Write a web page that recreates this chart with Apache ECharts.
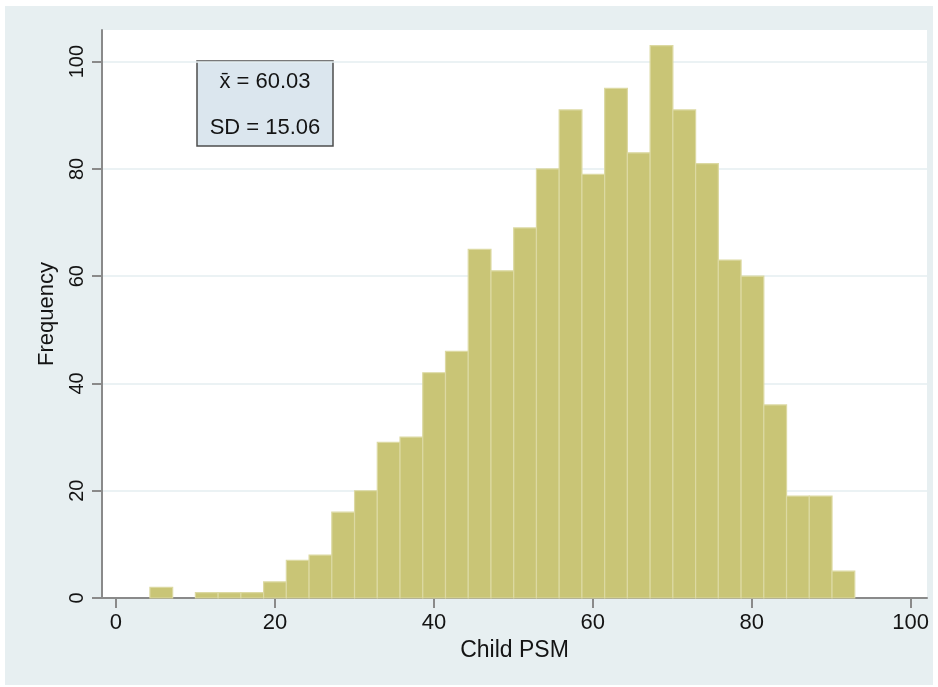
<!doctype html>
<html lang="en-US">

<head>
    <meta charset="utf-8" />
    <meta name="viewport" content="width=device-width, initial-scale=1" />
    <title>Child PSM histogram</title>

    <script type="text/javascript" src="https://cdn.jsdelivr.net/npm/echarts@6/dist/echarts.min.js"></script>

    <style>
        html,
        body {
            margin: 0;
            padding: 0;
            background: #ffffff;
        }

        #hist {
            width: 938px;
            height: 687px;
        }
    </style>
</head>

<body>
    <div id="hist"></div>
</body>

<script type="text/javascript">
    // histogram bins
    let binStart = 4.27;
    let binWidth = 2.861;
    let counts = [2, 0, 1, 1, 1, 3, 7, 8, 16, 20, 29, 30, 42, 46, 65, 61, 69, 80, 91, 79, 95, 83, 103, 91, 81, 63, 60, 36, 19, 19, 5];

    let xTicks = [0, 20, 40, 60, 80, 100];
    let yTicks = [0, 20, 40, 60, 80, 100];
    let statLines = ["x\u0304 = 60.03", "SD = 15.06"];

    let font = "'Liberation Sans', Arial, Helvetica, sans-serif";
    let bins = [];

    for (let i = 0; i < counts.length; i++) {
        bins.push([binStart + i * binWidth, binStart + (i + 1) * binWidth, counts[i]]);
    }

    let render_bar = function (params, api) {
        if (api.value(2) <= 0) {
            return null;
        }

        var lo = api.coord([api.value(0), 0]);
        var hi = api.coord([api.value(1), api.value(2)]);

        return {
            type: 'rect',
            shape: {
                x: lo[0],
                y: hi[1],
                width: hi[0] - lo[0],
                height: lo[1] - hi[1]
            },
            style: {
                fill: '#c9c576',
                stroke: '#dcd9a2',
                lineWidth: 1.2
            }
        };
    };

    var chartDom = document.getElementById("hist");
    var myChart = window.echarts.init(chartDom, null, { renderer: 'canvas' });
    var option = {
        backgroundColor: '#ffffff',
        animation: false,
        textStyle: {
            fontFamily: font
        },
        grid: {
            left: 102,
            right: 11,
            top: 30,
            bottom: 89,
            show: true,
            backgroundColor: '#ffffff',
            borderWidth: 0
        },
        xAxis: {
            type: 'value',
            min: -1.76,
            max: 102.05,
            name: 'Child PSM',
            nameLocation: 'middle',
            nameGap: 41,
            nameTextStyle: {
                fontFamily: font,
                fontSize: 23,
                color: '#141414'
            },
            axisLine: {
                show: true,
                onZero: false,
                lineStyle: { color: '#8a8a8a', width: 2 }
            },
            axisTick: {
                show: true,
                length: 10,
                customValues: xTicks,
                lineStyle: { color: '#8a8a8a', width: 2 }
            },
            axisLabel: {
                customValues: xTicks,
                margin: 14,
                fontFamily: font,
                fontSize: 22,
                color: '#141414'
            },
            splitLine: { show: false }
        },
        yAxis: {
            type: 'value',
            min: 0,
            max: 105.9,
            interval: 20,
            name: 'Frequency',
            nameLocation: 'middle',
            nameGap: 44,
            nameRotate: 90,
            nameTextStyle: {
                fontFamily: font,
                fontSize: 22,
                color: '#141414'
            },
            axisLine: {
                show: true,
                onZero: false,
                lineStyle: { color: '#8a8a8a', width: 2 }
            },
            axisTick: {
                show: true,
                length: 10,
                customValues: yTicks,
                lineStyle: { color: '#8a8a8a', width: 2 }
            },
            axisLabel: {
                customValues: yTicks,
                rotate: 90,
                margin: 15,
                fontFamily: font,
                fontSize: 20,
                color: '#141414'
            },
            splitLine: {
                show: true,
                lineStyle: { color: '#e4eef0', width: 1.5 }
            }
        },
        graphic: [
            {
                // outer graph region
                type: 'rect',
                z: -10,
                silent: true,
                shape: { x: 5, y: 6, width: 928, height: 679 },
                style: { fill: '#e7eff1' }
            },
            {
                type: 'group',
                z: 100,
                children: [
                    {
                        type: 'rect',
                        shape: { x: 197, y: 61, width: 136, height: 85 },
                        style: { fill: '#dbe6ee', stroke: '#4d4d4d', lineWidth: 1.5 }
                    },
                    {
                        type: 'text',
                        x: 265,
                        y: 82,
                        style: {
                            text: statLines[0],
                            align: 'center',
                            verticalAlign: 'middle',
                            font: '22px ' + font,
                            fill: '#141414'
                        }
                    },
                    {
                        type: 'text',
                        x: 265,
                        y: 128,
                        style: {
                            text: statLines[1],
                            align: 'center',
                            verticalAlign: 'middle',
                            font: '22px ' + font,
                            fill: '#141414'
                        }
                    }
                ]
            }
        ],
        series: [{
            type: 'custom',
            name: 'Frequency',
            renderItem: render_bar,
            encode: { x: [0, 1], y: 2 },
            data: bins
        }]
    };

    myChart.setOption(option);
</script>

</html>
